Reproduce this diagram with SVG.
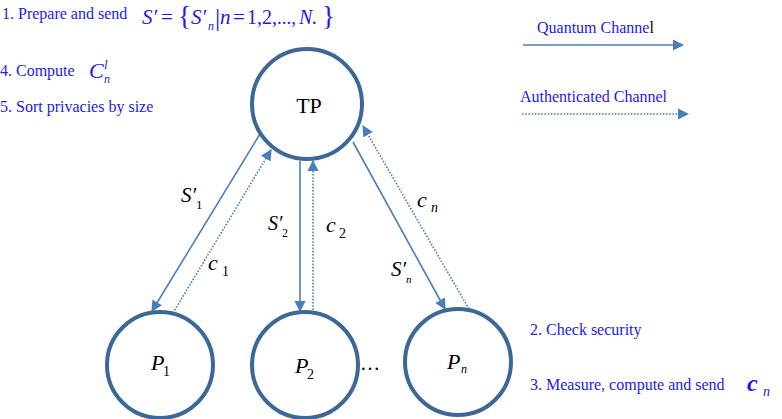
<svg xmlns="http://www.w3.org/2000/svg" width="782" height="419" viewBox="0 0 782 419">
<style>
.node{fill:#fff;stroke:#3c6898;stroke-width:4}
.q{stroke:#4a7ebb;stroke-width:1.6;fill:none}
.a{stroke:#4a7ebb;stroke-width:1.6;fill:none;stroke-dasharray:1.6 1.6}
.t{font-family:"Liberation Serif",serif;fill:#1a1aee;font-size:16px}
.m{font-family:"Liberation Serif",serif;font-style:italic;fill:#1a1aee}
.u{font-family:"Liberation Serif",serif;fill:#1a1aee}
.k{font-family:"Liberation Serif",serif;fill:#000}
.ki{font-family:"Liberation Serif",serif;font-style:italic;fill:#000}
</style>
<defs>
<marker id="ah" viewBox="0 0 10 10" refX="9" refY="5" markerWidth="7" markerHeight="7" markerUnits="strokeWidth" orient="auto">
<path d="M0,0 L10,5 L0,10 z" fill="#4a7ebb"/>
</marker>
</defs>

<g id="notes">
<text class="t" x="2" y="19">1. Prepare and send</text>
<g font-size="21">
<text class="m" x="142" y="24">S′</text>
<text class="u" x="161" y="24">=</text>
<text class="u" x="178" y="25" font-size="27">{</text>
<text class="m" x="191" y="24">S′</text>
<text class="m" x="208" y="30" font-size="12">n</text>
<text class="u" x="215" y="26" font-size="26">|</text>
<text class="m" x="220" y="24">n</text>
<text class="u" x="233" y="24">=</text>
<text class="u" x="247" y="24" font-size="20">1,</text>
<text class="u" x="262" y="24" font-size="20">2,</text>
<text class="u" x="277" y="24" font-size="19">...,</text>
<text class="m" x="299" y="24" font-size="20">N.</text>
<text class="u" x="322" y="25" font-size="27">}</text>
</g>
<text class="t" x="0" y="76">4. Compute</text>
<text class="m" x="89" y="78" font-size="22">C</text>
<text class="m" x="104" y="69" font-size="13">l</text>
<text class="m" x="104" y="83" font-size="12">n</text>
<text class="t" x="0" y="112">5. Sort privacies by size</text>
<text class="t" x="530" y="335">2. Check security</text>
<text class="t" x="530" y="390">3. Measure, compute and send</text>
<text class="m" x="747" y="391" font-size="24" font-weight="bold">c</text>
<text class="m" x="763" y="396" font-size="14">n</text>
</g>

<g id="legend">
<text class="t" x="537" y="33">Quantum Channe<tspan fill="#000">l</tspan></text>
<line class="q" x1="523" y1="45" x2="683" y2="45" marker-end="url(#ah)"/>
<text class="t" x="520" y="102">Authenticated Channel</text>
<line class="a" x1="522" y1="114" x2="688" y2="114" marker-end="url(#ah)"/>
</g>

<g id="connectors">
<line class="q" x1="260" y1="134" x2="152" y2="311" marker-end="url(#ah)"/>
<line class="a" x1="173" y1="313" x2="271" y2="150" marker-end="url(#ah)"/>
<line class="q" x1="300" y1="161" x2="300" y2="311" marker-end="url(#ah)"/>
<line class="a" x1="313" y1="310" x2="313" y2="161" marker-end="url(#ah)"/>
<line class="q" x1="353" y1="142" x2="445" y2="309" marker-end="url(#ah)"/>
<line class="a" x1="469" y1="309" x2="363" y2="126" marker-end="url(#ah)"/>
<text class="ki" x="181" y="202" font-size="21">S′</text>
<text class="k" x="196" y="209" font-size="13">1</text>
<text class="ki" x="208" y="270" font-size="22">c</text>
<text class="k" x="222" y="276" font-size="14">1</text>
<text class="ki" x="268" y="230" font-size="20">S′</text>
<text class="k" x="282" y="237" font-size="12">2</text>
<text class="ki" x="326" y="232" font-size="22">c</text>
<text class="k" x="339" y="238" font-size="14">2</text>
<text class="ki" x="417" y="207" font-size="22">c</text>
<text class="ki" x="431" y="212" font-size="14">n</text>
<text class="ki" x="391" y="276" font-size="21">S′</text>
<text class="ki" x="406" y="283" font-size="11">n</text>
</g>

<g id="TP">
<circle class="node" cx="307" cy="104" r="55"/>
<text class="k" x="309" y="113" font-size="22" text-anchor="middle">TP</text>
</g>
<g id="P1">
<circle class="node" cx="160" cy="365" r="53"/>
<text class="ki" x="151" y="370" font-size="22">P</text>
<text class="k" x="163" y="376" font-size="14">1</text>
</g>
<g id="P2">
<circle class="node" cx="305" cy="365" r="53"/>
<text class="ki" x="295" y="373" font-size="22">P</text>
<text class="k" x="307" y="379" font-size="14">2</text>
</g>
<g id="Pn">
<circle class="node" cx="458" cy="362" r="53"/>
<text class="ki" x="447" y="369" font-size="22">P</text>
<text class="ki" x="461" y="373" font-size="12">n</text>
</g>
<text class="k" x="370" y="370" font-size="20" text-anchor="middle">…</text>
</svg>
